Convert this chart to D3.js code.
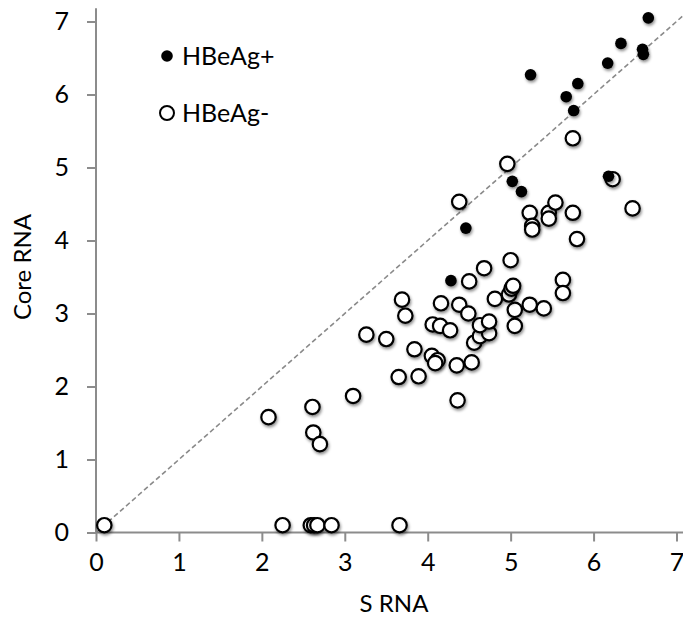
<!DOCTYPE html>
<html lang="en">
<head>
<meta charset="UTF-8">
<title>Core RNA vs S RNA</title>
<script src="https://cdn.jsdelivr.net/npm/d3@7"></script>
<style>
  body { margin: 0; background: #fff; }
  text { font-family: Lato, 'Open Sans', sans-serif; fill: #000; }
  .axis path, .axis line { stroke: #8c8c8c; stroke-width: 2px; }
  .axis text { font-size: 25px; }
  .title { font-size: 24px; }
  .legend text { font-size: 25px; }
</style>
</head>
<body>
<script>

// HBeAg+ (filled)
var posS    = [6.66, 6.33, 6.59, 6.60, 6.17, 5.24, 5.81, 5.67, 5.76, 6.18, 5.02, 5.13, 4.46, 4.28];
var posCore = [7.05, 6.70, 6.62, 6.55, 6.43, 6.27, 6.15, 5.97, 5.78, 4.88, 4.81, 4.67, 4.17, 3.45];

// HBeAg- (open)
var negS    = [0.10, 2.25, 2.59, 2.63, 2.67, 2.84, 3.66,
               2.08, 2.61, 2.62, 2.70, 3.10, 3.26, 3.50,
               3.65, 3.89, 3.84, 4.36,
               4.05, 4.12, 4.09, 4.35, 4.53,
               4.56, 4.63, 4.74, 4.63, 4.74,
               4.06, 4.15, 4.27,
               3.69, 3.73, 4.16, 4.38, 4.49,
               4.81, 5.05, 5.05, 5.23, 5.40,
               4.98, 5.01, 5.03, 4.50, 4.68, 5.00,
               5.63, 5.63,
               4.38, 5.23, 5.26, 5.26, 5.46, 5.46, 5.54, 5.75, 5.80, 6.47,
               4.96, 5.75, 6.23];
var negCore = [0.10, 0.10, 0.10, 0.10, 0.10, 0.10, 0.10,
               1.58, 1.72, 1.37, 1.21, 1.87, 2.71, 2.65,
               2.13, 2.14, 2.51, 1.81,
               2.42, 2.36, 2.32, 2.29, 2.33,
               2.60, 2.69, 2.73, 2.84, 2.89,
               2.85, 2.83, 2.77,
               3.19, 2.97, 3.14, 3.12, 3.00,
               3.20, 3.05, 2.83, 3.12, 3.07,
               3.26, 3.34, 3.38, 3.44, 3.62, 3.73,
               3.46, 3.28,
               4.53, 4.38, 4.20, 4.15, 4.38, 4.30, 4.52, 4.38, 4.02, 4.44,
               5.05, 5.40, 4.84];

var ticks = [0, 1, 2, 3, 4, 5, 6, 7];
var seriesNames = ["HBeAg+", "HBeAg-"];
var xTitle = "S RNA";
var yTitle = "Core RNA";

var width = 683, height = 619;
var x0 = 96, x7 = 676.5, y0 = 532.5, y7 = 21.5;

var svg = d3.select("body").append("svg").attr("width", width).attr("height", height);

var defs = svg.append("defs");
var f = defs.append("filter").attr("id", "shadow")
  .attr("x", "-50%").attr("y", "-50%").attr("width", "200%").attr("height", "200%");
f.append("feDropShadow").attr("dx", 1).attr("dy", 2).attr("stdDeviation", 1.8)
  .attr("flood-color", "#000").attr("flood-opacity", 0.45);

var xScale = d3.scaleLinear().domain([0, 7]).range([x0, x7]);
var yScale = d3.scaleLinear().domain([0, 7]).range([y0, y7]);

// axes
var xAxis = svg.append("g").attr("class", "axis").attr("transform", "translate(0," + y0 + ")")
  .call(d3.axisBottom(xScale).tickValues(ticks).tickSize(9).tickSizeOuter(0).tickPadding(12).tickFormat(d3.format("d")));
xAxis.select(".domain").remove();
xAxis.append("line").attr("x1", x0).attr("x2", width).attr("y1", 0).attr("y2", 0)
  .attr("stroke", "#8c8c8c").attr("stroke-width", 2);

var yAxis = svg.append("g").attr("class", "axis").attr("transform", "translate(" + x0 + ",0)")
  .call(d3.axisLeft(yScale).tickValues(ticks).tickSize(9).tickSizeOuter(0).tickPadding(18).tickFormat(d3.format("d")));
yAxis.select(".domain").remove();
yAxis.append("line").attr("x1", 0).attr("x2", 0).attr("y1", y0).attr("y2", yScale(7.18))
  .attr("stroke", "#8c8c8c").attr("stroke-width", 2);

// identity line
svg.append("line")
  .attr("x1", xScale(0)).attr("y1", yScale(0))
  .attr("x2", xScale(7.08)).attr("y2", yScale(7.08))
  .attr("stroke", "#8a8a8a").attr("stroke-width", 1.6).attr("stroke-dasharray", "5,3");

// points
var neg = negS.map(function(s, i) { return { s: s, c: negCore[i] }; });
var pos = posS.map(function(s, i) { return { s: s, c: posCore[i] }; });

svg.append("g").selectAll("circle").data(neg).enter().append("circle")
  .attr("cx", function(d) { return xScale(d.s); })
  .attr("cy", function(d) { return yScale(d.c); })
  .attr("r", 7.2).attr("fill", "#fff").attr("stroke", "#000").attr("stroke-width", 2.2)
  .attr("filter", "url(#shadow)");

svg.append("g").selectAll("circle").data(pos).enter().append("circle")
  .attr("cx", function(d) { return xScale(d.s); })
  .attr("cy", function(d) { return yScale(d.c); })
  .attr("r", 5.8).attr("fill", "#000")
  .attr("filter", "url(#shadow)");

// legend
var lg = svg.append("g").attr("class", "legend");
lg.append("circle").attr("cx", 167).attr("cy", 56).attr("r", 5.8).attr("fill", "#000");
lg.append("text").attr("x", 182).attr("y", 56).attr("dy", "0.35em").text(seriesNames[0]);
lg.append("circle").attr("cx", 167).attr("cy", 113).attr("r", 7).attr("fill", "#fff")
  .attr("stroke", "#000").attr("stroke-width", 2);
lg.append("text").attr("x", 182).attr("y", 113).attr("dy", "0.35em").text(seriesNames[1]);

// titles
svg.append("text").attr("class", "title").attr("x", 394).attr("y", 612)
  .attr("text-anchor", "middle").text(xTitle);
svg.append("text").attr("class", "title").attr("transform", "translate(23,267) rotate(-90)")
  .attr("dy", "0.35em").attr("text-anchor", "middle").text(yTitle);

</script>
</body>
</html>
